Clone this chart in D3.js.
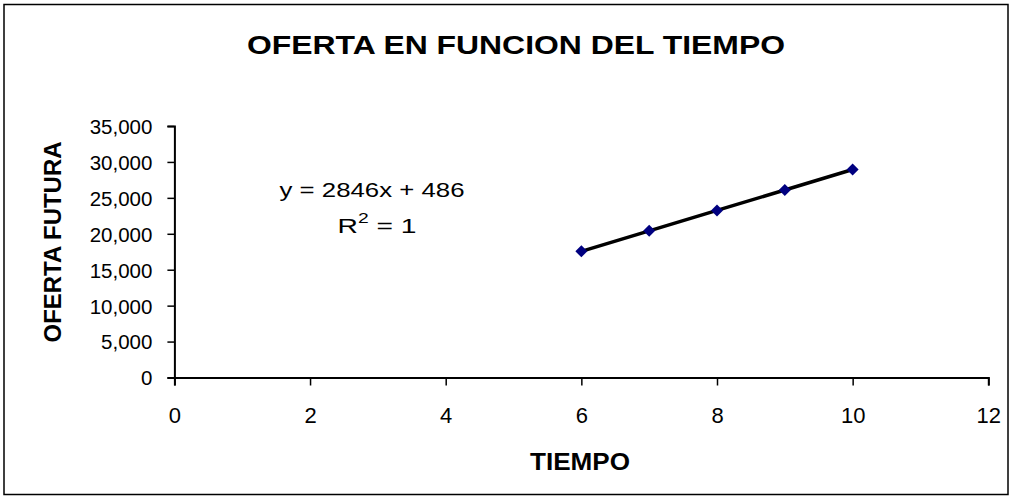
<!DOCTYPE html>
<html><head><meta charset="utf-8">
<script src="https://cdn.jsdelivr.net/npm/d3@7"></script>
<style>body{margin:0;background:#fff;}svg{display:block;font-family:"Liberation Sans",Arial,sans-serif;}</style>
</head><body>
<svg id="c" width="1013" height="500"></svg>
<script>
const tiempo = [6, 7, 8, 9, 10];
const oferta = [17562, 20408, 23254, 26100, 28946];
const xTicks = [0, 2, 4, 6, 8, 10, 12];
const yTicks = [0, 5000, 10000, 15000, 20000, 25000, 30000, 35000];
const title = "OFERTA EN FUNCION DEL TIEMPO";
const xTitle = "TIEMPO";
const yTitle = "OFERTA FUTURA";
const eqText = "y = 2846x + 486";

const svg = d3.select("#c");
svg.append("rect").attr("x",4).attr("y",4.5).attr("width",1004).attr("height",490)
  .attr("fill","#fff").attr("stroke","#000").attr("stroke-width",1.5);

const x = d3.scaleLinear().domain([0,12]).range([174.4,988.3]);
const y = d3.scaleLinear().domain([0,35000]).range([377.5,126]);

const fmt = d3.format(",");
const gx = svg.append("g").attr("transform","translate(0,"+y(0)+")")
  .call(d3.axisBottom(x).tickValues(xTicks).tickSize(8).tickPadding(22).tickFormat(d3.format("d")));
const gy = svg.append("g").attr("transform","translate("+x(0)+",0)")
  .call(d3.axisLeft(y).tickValues(yTicks).tickSize(7).tickPadding(15).tickFormat(fmt));
[gx,gy].forEach(g=>{
  g.select(".domain").attr("stroke","#000").attr("stroke-width",2);
  g.selectAll(".tick line").attr("stroke","#000").attr("stroke-width",1.5);
  g.selectAll("text").attr("fill","#000").style("font-family","'Liberation Sans',Arial,sans-serif");
});
gx.selectAll("text").style("font-size","22px");
gy.selectAll("text").style("font-size","20.5px").attr("dy","0.36em");

svg.append("text").attr("x",516).attr("y",54).attr("text-anchor","middle")
  .attr("textLength",538).attr("lengthAdjust","spacingAndGlyphs")
  .style("font-size","26px").style("font-weight","bold").text(title);
svg.append("text").attr("x",580).attr("y",470).attr("text-anchor","middle")
  .attr("textLength",100).attr("lengthAdjust","spacingAndGlyphs")
  .style("font-size","24px").style("font-weight","bold").text(xTitle);
svg.append("text").attr("transform","translate(61,242) rotate(-90)").attr("text-anchor","middle")
  .attr("textLength",201).attr("lengthAdjust","spacingAndGlyphs")
  .style("font-size","24px").style("font-weight","bold").text(yTitle);

const eq = svg.append("g").style("font-size","20.5px");
eq.append("text").attr("x",372).attr("y",197).attr("text-anchor","middle")
  .attr("textLength",185).attr("lengthAdjust","spacingAndGlyphs").text(eqText);
const r2 = eq.append("text").attr("x",377).attr("y",233).attr("text-anchor","middle")
  .attr("textLength",79).attr("lengthAdjust","spacingAndGlyphs");
r2.append("tspan").text("R");
r2.append("tspan").attr("dy",-10).style("font-size","14px").text("2");
r2.append("tspan").attr("dy",10).text(" = 1");

const pts = tiempo.map((t,i)=>[t,oferta[i]]);
svg.append("path").datum(pts)
  .attr("d", d3.line().x(d=>x(d[0])).y(d=>y(d[1])))
  .attr("fill","none").attr("stroke","#000").attr("stroke-width",3.5);
svg.append("g").selectAll("path").data(pts).join("path")
  .attr("transform",d=>"translate("+x(d[0])+","+y(d[1])+")")
  .attr("d","M0,-6L6,0L0,6L-6,0Z").attr("fill","#000080");
</script>
</body></html>
